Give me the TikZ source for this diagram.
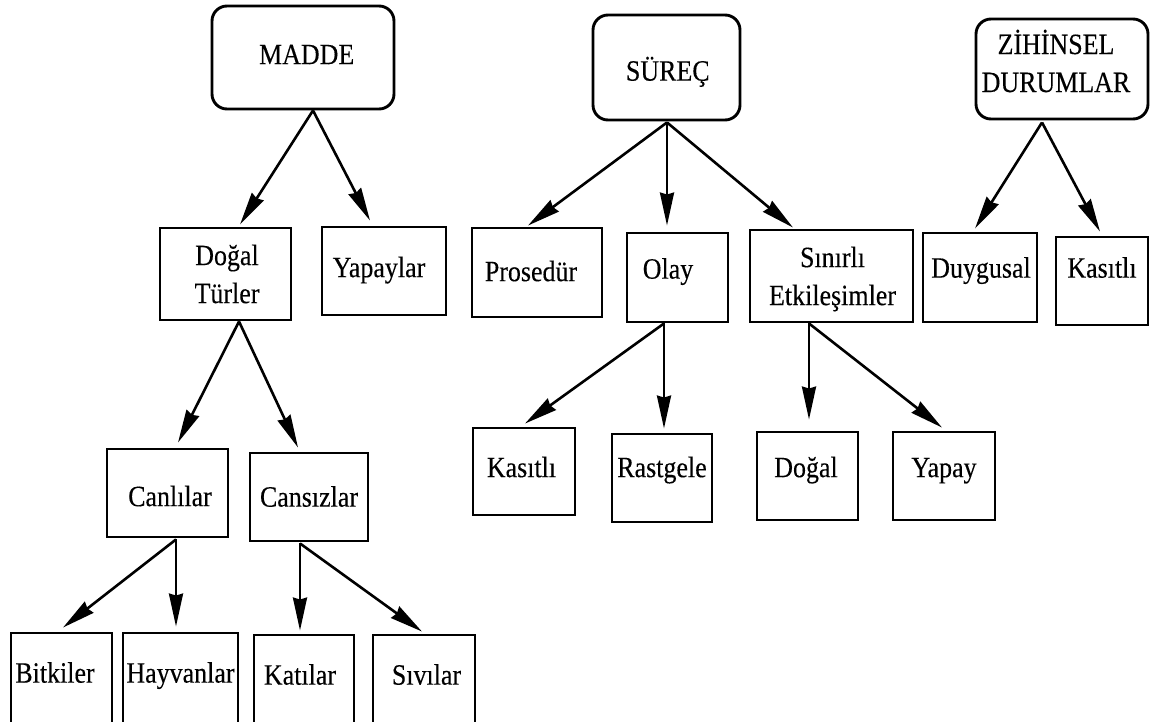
\documentclass[tikz,border=0pt]{standalone}
\usepackage{fontspec}
\setmainfont{Liberation Serif}[FakeStretch=0.88,FakeBold=0.25]
\usetikzlibrary{arrows.meta,calc}
\tikzset{
  box/.style={draw=black, line width=2.9pt, inner sep=0pt},
  rbox/.style={box, rounded corners=15pt},
  txt/.style={font=\fontsize{29.5}{38}\selectfont, inner sep=0pt, text height=19.3pt, text depth=0pt},
  mtxt/.style={font=\fontsize{29.5}{38}\selectfont, inner sep=0pt, align=center},
  arr/.style={draw=black, line width=2.6pt, -{Stealth[length=33pt,width=14pt,inset=2pt]}},
}
\begin{document}
\begin{tikzpicture}[x=1pt,y=-1pt]
\useasboundingbox (0,0) rectangle (1165,721);
\clip (0,0) rectangle (1165,721);
% top level
\node[rbox, minimum width=182pt, minimum height=103pt, label={[txt,xshift=3.7pt,yshift=3pt]center:MADDE}] (madde) at (303,57.5) {};
\node[rbox, minimum width=147pt, minimum height=105pt, label={[txt,xshift=1.3pt,yshift=-3.5pt]center:SÜREÇ}] (surec) at (666.5,67.5) {};
\node[rbox, minimum width=172pt, minimum height=100pt, label={[mtxt,xshift=-6pt,yshift=8pt]center:{ZİHİNSEL\\DURUMLAR}}] (zihin) at (1062,69) {};
% second level
\node[box, minimum width=131pt, minimum height=92pt, label={[mtxt,xshift=1.5pt,yshift=0pt]center:{Doğal\\Türler}}] (dogalt) at (225.5,274) {};
\node[box, minimum width=124pt, minimum height=88pt, label={[txt,xshift=-5pt,yshift=3.5pt]center:Yapaylar}] (yapaylar) at (384,271) {};
\node[box, minimum width=130pt, minimum height=89pt, label={[txt,xshift=-6pt,yshift=1pt]center:Prosedür}] (prosedur) at (537,272.5) {};
\node[box, minimum width=101pt, minimum height=89pt, label={[txt,xshift=-9.5pt,yshift=8.5pt]center:Olay}] (olay) at (677.5,277.5) {};
\node[box, minimum width=163pt, minimum height=92pt, label={[mtxt,xshift=1pt,yshift=-3pt]center:{Sınırlı\\Etkileşimler}}] (sinirli) at (831.5,276) {};
\node[box, minimum width=114pt, minimum height=89pt, label={[txt,xshift=1pt,yshift=9.5pt]center:Duygusal}] (duygusal) at (980,277.5) {};
\node[box, minimum width=92pt, minimum height=88pt, label={[txt,xshift=0pt,yshift=13pt]center:Kasıtlı}] (kasitliz) at (1102,281) {};
% third level
\node[box, minimum width=121pt, minimum height=88pt, label={[txt,xshift=2.5pt,yshift=-3.5pt]center:Canlılar}] (canlilar) at (167.5,493) {};
\node[box, minimum width=118pt, minimum height=88pt, label={[txt]center:Cansızlar}] (cansizlar) at (309,497) {};
\node[box, minimum width=102pt, minimum height=87pt, label={[txt,xshift=-2.5pt,yshift=4pt]center:Kasıtlı}] (kasitlio) at (524,471.5) {};
\node[box, minimum width=100pt, minimum height=88pt, label={[txt,yshift=10.5pt]center:Rastgele}] (rastgele) at (662,478) {};
\node[box, minimum width=101pt, minimum height=88pt, label={[txt,xshift=-1.5pt,yshift=8.5pt]center:Doğal}] (dogal) at (807.5,476) {};
\node[box, minimum width=102pt, minimum height=88pt, label={[txt,yshift=8.5pt]center:Yapay}] (yapay) at (944,476) {};
% fourth level
\node[box, minimum width=101pt, minimum height=90pt, label={[txt,xshift=-6.5pt,yshift=5pt]center:Bitkiler}] (bitkiler) at (61.5,678) {};
\node[box, minimum width=115pt, minimum height=90pt, label={[txt,yshift=5pt]center:Hayvanlar}] (hayvanlar) at (180.5,678) {};
\node[box, minimum width=100pt, minimum height=90pt, label={[txt,xshift=-4pt,yshift=5pt]center:Katılar}] (katilar) at (304,680) {};
\node[box, minimum width=102pt, minimum height=90pt, label={[txt,xshift=2.5pt,yshift=5pt]center:Sıvılar}] (sivilar) at (424,680) {};
% connectors
\draw[arr] ($(madde.south)+(10,0)$) -- ($(dogalt.north)+(14.5,-2)$);
\draw[arr] ($(madde.south)+(10,0)$) -- ($(yapaylar.north)+(-14,-5)$);
\draw[arr] ($(dogalt.south)+(13.5,0)$) -- ($(canlilar.north)+(10.5,-5)$);
\draw[arr] ($(dogalt.south)+(13.5,0)$) -- ($(cansizlar.north)+(-11,-4)$);
\draw[arr] ($(canlilar.south)+(8.5,1)$) -- ($(bitkiler.north)+(1.5,-4)$);
\draw[arr] ($(canlilar.south)+(8.5,1)$) -- ($(hayvanlar.north)+(-4.5,-5)$);
\draw[arr] ($(cansizlar.south)+(-9,1)$) -- ($(katilar.north)+(-4,-3)$);
\draw[arr] ($(cansizlar.south)+(-9,1)$) -- ($(sivilar.north)+(-2,-2)$);
\draw[arr] ($(surec.south)+(0.5,1)$) -- ($(prosedur.north)+(-9,-1)$);
\draw[arr] ($(surec.south)+(0.5,1)$) -- ($(olay.north)+(-10.5,-6)$);
\draw[arr] ($(surec.south)+(0.5,1)$) -- ($(sinirli.north)+(-38.5,-1)$);
\draw[arr] ($(olay.south)+(-13.5,0)$) -- ($(kasitlio.north)+(1,-3)$);
\draw[arr] ($(olay.south)+(-13.5,0)$) -- ($(rastgele.north)+(2,-4)$);
\draw[arr] ($(sinirli.south)+(-22.5,0)$) -- ($(dogal.north)+(1.5,-11)$);
\draw[arr] ($(sinirli.south)+(-22.5,0)$) -- ($(yapay.north)+(-2,-3)$);
\draw[arr] ($(zihin.south)+(-20,2)$) -- ($(duygusal.north)+(-5,-3)$);
\draw[arr] ($(zihin.south)+(-20,2)$) -- ($(kasitliz.north)+(-2,-4)$);
\end{tikzpicture}
\end{document}
